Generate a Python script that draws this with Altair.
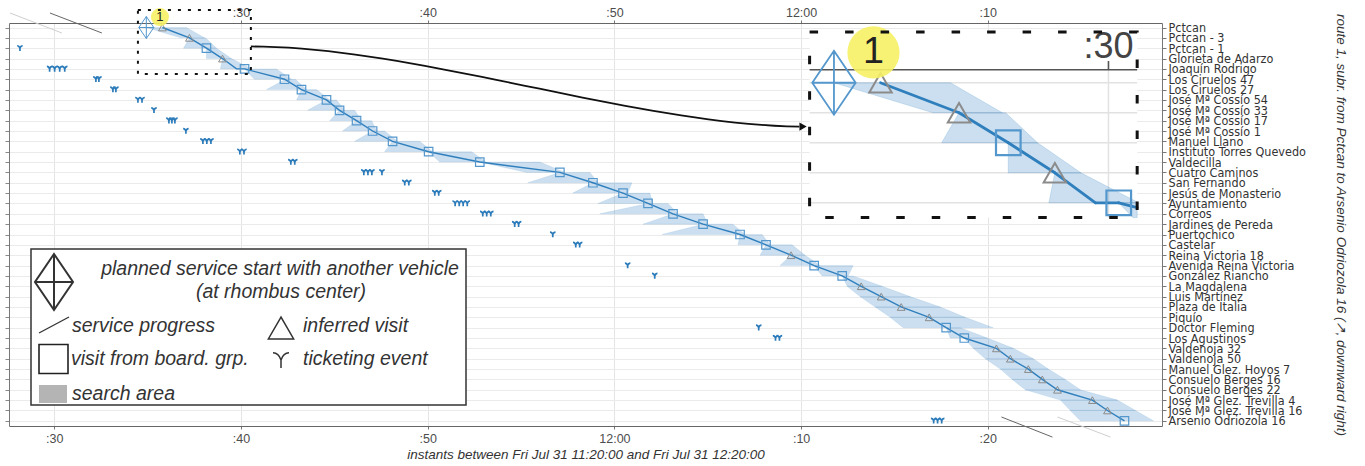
import json
import altair as alt
import pandas as pd

# ---------------------------------------------------------------- data
STATIONS = [
    "Pctcan", "Pctcan - 3", "Pctcan - 1", "Glorieta de Adarzo", "Joaquín Rodrigo",
    "Los Ciruelos 47", "Los Ciruelos 27", "José Mª Cossío 54", "José Mª Cossío 33",
    "José Mª Cossío 17", "José Mª Cossío 1", "Manuel Llano", "Instituto Torres Quevedo",
    "Valdecilla", "Cuatro Caminos", "San Fernando", "Jesús de Monasterio", "Ayuntamiento",
    "Correos", "Jardines de Pereda", "Puertochico", "Castelar", "Reina Victoria 18",
    "Avenida Reina Victoria", "González Riancho", "La Magdalena", "Luis Martínez",
    "Plaza de Italia", "Piquío", "Doctor Fleming", "Los Agustinos", "Valdenoja 32",
    "Valdenoja 50", "Manuel Glez. Hoyos 7", "Consuelo Berges 16", "Consuelo Berges 22",
    "José Mª Glez. Trevilla 4", "José Mª Glez. Trevilla 16", "Arsenio Odriozola 16",
]

# times are minutes after 11:00
PLANNED_START_MIN = 34.93          # planned start with another vehicle, at stop 0

# one visit per stop, in stop order
VISIT_MIN = [35.79, 37.24, 38.15, 39.01, 40.19, 42.33, 43.24, 44.58, 45.28, 46.19,
             47.05, 48.12, 50.05, 52.79, 57.08, 58.85, 60.46, 61.80, 63.14, 64.75,
             66.73, 68.12, 69.46, 70.70, 72.20, 73.22, 74.29, 75.36, 76.86, 77.77,
             78.74, 80.46, 81.21, 82.17, 82.92, 83.73, 85.60, 86.41, 87.32]
# I = inferred visit, B = visit from boarding group
VISIT_KIND = list("IIBI" "BBBBBBBBBBBBBBBBBB" "I" "BB" "IIII" "BB" "IIIIIII" "B")
ARRIVAL_MIN = {4: 39.76}           # arrival before the dwell at Joaquín Rodrigo

# search area between stop k-1 (top edge) and stop k (bottom edge), k = 1..38
SEARCH_TOP_LO = [34.93, 37.24, 38.15, 39.01, 40.19, 42.39, 43.24, 44.58, 45.28, 46.19,
                 47.05, 48.12, 50.05, 52.79, 57.08, 58.85, 60.46, 61.80, 63.14, 64.75,
                 66.73, 68.12, 69.46, 70.70, 72.20, 72.47, 73.16, 73.97, 74.77, 77.77,
                 78.74, 79.22, 79.87, 80.67, 81.31, 82.01, 83.89, 84.42]
SEARCH_TOP_HI = [37.08, 38.10, 38.69, 39.49, 41.90, 42.92, 44.05, 45.12, 46.09, 47.00,
                 47.69, 49.57, 52.36, 56.01, 58.69, 60.94, 61.90, 62.87, 64.75, 66.35,
                 67.91, 69.52, 70.21, 72.79, 72.79, 74.34, 75.84, 77.45, 78.79, 78.52,
                 79.97, 81.37, 82.44, 83.24, 84.15, 84.96, 86.94, 87.91]
SEARCH_BOT_LO = [36.76, 36.92, 38.15, 38.90, 40.72, 41.37, 42.98, 43.57, 44.75, 45.44,
                 46.09, 47.69, 50.64, 55.31, 55.36, 57.77, 59.12, 59.22, 61.53, 62.55,
                 66.62, 67.80, 68.87, 71.13, 72.47, 73.16, 73.97, 74.77, 75.47, 77.99,
                 79.22, 79.87, 80.67, 81.31, 82.01, 83.89, 84.42, 84.96]
SEARCH_BOT_HI = [38.04, 38.69, 39.49, 40.56, 42.71, 43.51, 44.75, 45.55, 46.46, 47.27,
                 48.39, 50.27, 53.11, 57.35, 59.12, 60.72, 62.06, 63.41, 65.01, 66.99,
                 68.34, 70.21, 71.02, 72.52, 74.34, 75.84, 77.45, 78.79, 80.29, 79.97,
                 81.37, 82.44, 83.24, 84.15, 84.96, 86.94, 87.91, 88.87]

# ticketing events (minute, stop)
TICKET_MIN = [28.16, 29.75, 30.02, 30.29, 30.56, 32.23, 32.39, 33.14, 33.30, 34.48,
              34.70, 35.34, 36.14, 36.30, 36.46, 37.05, 37.96, 38.17, 38.39, 39.94,
              40.16, 42.67, 42.88, 46.58, 46.80, 47.01, 47.55, 48.77, 48.99, 50.38,
              50.59, 51.47, 51.69, 51.90, 52.12, 52.95, 53.16, 53.38, 54.66, 54.87,
              56.70, 57.93, 58.14, 60.71, 62.16, 67.73, 68.63, 68.84, 77.10, 77.31,
              77.53]
TICKET_ROW = [2, 4, 4, 4, 4, 5, 5, 6, 6, 7,
              7, 8, 9, 9, 9, 10, 11, 11, 11, 12,
              12, 13, 13, 14, 14, 14, 14, 15, 15, 16,
              16, 17, 17, 17, 17, 18, 18, 18, 19, 19,
              20, 21, 21, 23, 24, 29, 30, 30, 38, 38,
              38]

# progress of neighbouring services
OTHER_T0 = [27.63, 29.77, 80.73, 83.73]
OTHER_R0 = [-1.40, -1.40, 37.63, 37.63]
OTHER_T1 = [30.41, 32.55, 83.46, 86.57]
OTHER_R1 = [0.53, 0.53, 39.57, 39.57]
OTHER_STATUS = ["ended", "running", "running", "ended"]

SERVICE_LABEL = "1"
SERVICE_LABEL_AT = (35.66, -1.01)

X_DOMAIN = [27.575, 89.33]
Y_DOMAIN = [-0.435, 38.5]
BOTTOM_TICKS = [30, 40, 50, 60, 70, 80]
TOP_TICKS = [40, 50, 60, 70, 80]
TOP_SHIFT = 10
TOP_TICK_ROWS = 0.29
TOP_LABEL_ROW = -1.2

# magnified detail: source window (t0, t1, r0, r1), destination corner, factor
INSET_SRC = (34.48, 40.53, -1.69, 4.49)
INSET_DST = (70.455, 0.435)
ZOOM = 2.9

TITLE_X = "instants between Fri Jul 31 11:20:00 and Fri Jul 31 12:20:00"
TITLE_Y = "route 1, subr. from Pctcan to Arsenio Odriozola 16 (\u2197, downward right)"

# ---------------------------------------------------------------- styles
BLUE = "#2f7fbd"
SQUARE_BLUE = "#5497cd"
TRI_GREY = "#8b8b8b"
AREA_BLUE = "#5d9bd0"
TICKET_BLUE = "#2b7bba"
TEXT = "#333333"
FONT = "Liberation Sans"
STOP_FONT = "DejaVu Sans Condensed, Liberation Sans, sans-serif"

RHOMBUS = "M0,-1L0.68,0L0,1L-0.68,0Z M0,-1L0,1 M-0.68,0L0.68,0"
TICKET = "M-1,-0.9Q-0.3,-0.9,0,0Q0.3,-0.9,1,-0.9M0,0L0,1"

XS = alt.Scale(domain=X_DOMAIN, nice=False, zero=False)
YS = alt.Scale(domain=Y_DOMAIN, reverse=True, nice=False, zero=False)


def xq(field):
    return alt.X(f"{field}:Q", scale=XS, axis=None)


def yq(field):
    return alt.Y(f"{field}:Q", scale=YS, axis=None)


def clock(v):
    return f"{11 + v // 60}:00" if v % 60 == 0 else f":{v % 60:02d}"


# ---------------------------------------------------------------- geometry helpers
def to_inset(t, r):
    return (INSET_DST[0] + (t - INSET_SRC[0]) * ZOOM,
            INSET_DST[1] + (r - INSET_SRC[2]) * ZOOM)


def inside(t, r):
    return INSET_SRC[0] <= t <= INSET_SRC[1] and INSET_SRC[2] <= r <= INSET_SRC[3]


def clip_levels(levels, box):
    """Clip a band given by (row, lo, hi) levels to a window."""
    t0, t1, r0, r1 = box
    cands = {lv[0] for lv in levels} | {r0, r1}
    pairs = list(zip(levels, levels[1:]))
    for (ra, la, ha), (rb, lb, hb) in pairs:
        for ea, eb in ((la, lb), (ha, hb)):
            for b in (t0, t1):
                if (ea - b) * (eb - b) < 0:
                    cands.add(ra + (b - ea) / (eb - ea) * (rb - ra))
    lo_r, hi_r = max(levels[0][0], r0), min(levels[-1][0], r1)
    out = []
    for r in sorted(c for c in cands if lo_r <= c <= hi_r):
        for (ra, la, ha), (rb, lb, hb) in pairs:
            if ra <= r <= rb:
                f = 0.0 if rb == ra else (r - ra) / (rb - ra)
                lo, hi = la + f * (lb - la), ha + f * (hb - ha)
                break
        lo, hi = max(lo, t0), min(hi, t1)
        if lo <= hi:
            out.append((r, lo, hi))
    return out


def clip_segment(p, q, box):
    t0, t1, r0, r1 = box
    (x0, y0), (x1, y1) = p, q
    dx, dy = x1 - x0, y1 - y0
    u0, u1 = 0.0, 1.0
    for pp, qq in ((-dx, x0 - t0), (dx, t1 - x0), (-dy, y0 - r0), (dy, r1 - y0)):
        if pp == 0:
            if qq < 0:
                return None
        else:
            u = qq / pp
            if pp < 0:
                u0 = max(u0, u)
            else:
                u1 = min(u1, u)
    if u0 > u1:
        return None
    return (x0 + u0 * dx, y0 + u0 * dy), (x0 + u1 * dx, y0 + u1 * dy)


# ---------------------------------------------------------------- tables
visits = pd.DataFrame({"t": VISIT_MIN, "row": range(len(VISIT_MIN)), "kind": VISIT_KIND})

route_pts = []
for i, t in enumerate(VISIT_MIN):
    if i in ARRIVAL_MIN:
        route_pts.append((ARRIVAL_MIN[i], i))
    route_pts.append((t, i))
route = pd.DataFrame([{"seq": k, "t": t, "row": r} for k, (t, r) in enumerate(route_pts)])

area_rows, inset_area_rows = [], []
for k in range(1, len(VISIT_MIN)):
    levels = [(k - 1, SEARCH_TOP_LO[k - 1], SEARCH_TOP_HI[k - 1]),
              (k, SEARCH_BOT_LO[k - 1], SEARCH_BOT_HI[k - 1])]
    for r, lo, hi in levels:
        area_rows.append({"poly": k, "row": r, "lo": lo, "hi": hi})
    for r, lo, hi in clip_levels(levels, INSET_SRC):
        lo2, r2 = to_inset(lo, r)
        hi2, _ = to_inset(hi, r)
        inset_area_rows.append({"poly": k, "row": r2, "lo": lo2, "hi": hi2})
areas = pd.DataFrame(area_rows)
inset_areas = pd.DataFrame(inset_area_rows)

inset_route_rows = []
for k, (p, q) in enumerate(zip(route_pts, route_pts[1:])):
    seg = clip_segment(p, q, INSET_SRC)
    if seg:
        for j, pt in enumerate(seg):
            t2, r2 = to_inset(*pt)
            inset_route_rows.append({"seg": k, "j": j, "t": t2, "row": r2})
inset_route = pd.DataFrame(inset_route_rows)

inset_visits = pd.DataFrame(
    [dict(zip(("t", "row"), to_inset(t, r)), kind=kd)
     for t, r, kd in zip(VISIT_MIN, range(len(VISIT_MIN)), VISIT_KIND) if inside(t, r)])

tickets = pd.DataFrame({"t": TICKET_MIN, "row": TICKET_ROW})
others = pd.DataFrame({"t0": OTHER_T0, "r0": OTHER_R0, "t1": OTHER_T1, "r1": OTHER_R1,
                       "status": OTHER_STATUS})

start = pd.DataFrame({"t": [PLANNED_START_MIN], "row": [0]})
ist, isr = to_inset(PLANNED_START_MIN, 0)
inset_start = pd.DataFrame({"t": [ist], "row": [isr]})

badge = pd.DataFrame({"t": [SERVICE_LABEL_AT[0]], "row": [SERVICE_LABEL_AT[1]],
                      "txt": [SERVICE_LABEL]})
bt, br = to_inset(*SERVICE_LABEL_AT)
inset_badge = pd.DataFrame({"t": [bt], "row": [br], "txt": [SERVICE_LABEL]})

# windows
src_box = pd.DataFrame({"t0": [INSET_SRC[0]], "t1": [INSET_SRC[1]],
                        "r0": [INSET_SRC[2]], "r1": [INSET_SRC[3]]})
d0 = to_inset(INSET_SRC[0], INSET_SRC[2])
d1 = to_inset(INSET_SRC[1], INSET_SRC[3])
dst_box = pd.DataFrame({"t0": [d0[0]], "t1": [d1[0]], "r0": [d0[1]], "r1": [d1[1]]})

# magnified axis furniture
grid_rows = []
for r in range(len(STATIONS)):
    if INSET_SRC[2] <= r <= INSET_SRC[3]:
        a, b = to_inset(INSET_SRC[0], r), to_inset(INSET_SRC[1], r)
        grid_rows.append({"t0": a[0], "r0": a[1], "t1": b[0], "r1": b[1]})
for v in BOTTOM_TICKS:
    if INSET_SRC[0] <= v <= INSET_SRC[1]:
        a, b = to_inset(v, Y_DOMAIN[0]), to_inset(v, INSET_SRC[3])
        grid_rows.append({"t0": a[0], "r0": a[1], "t1": b[0], "r1": b[1]})
inset_grid = pd.DataFrame(grid_rows)

axis_rows, label_rows = [], []
a, b = to_inset(INSET_SRC[0], Y_DOMAIN[0]), to_inset(INSET_SRC[1], Y_DOMAIN[0])
axis_rows.append({"t0": a[0], "r0": a[1], "t1": b[0], "r1": b[1]})
for v in TOP_TICKS:
    if INSET_SRC[0] <= v <= INSET_SRC[1]:
        a, b = to_inset(v, Y_DOMAIN[0]), to_inset(v, Y_DOMAIN[0] - TOP_TICK_ROWS)
        axis_rows.append({"t0": a[0], "r0": a[1], "t1": b[0], "r1": b[1]})
        lt, lr = to_inset(v, TOP_LABEL_ROW)
        label_rows.append({"t": lt, "row": lr, "txt": clock(v - TOP_SHIFT)})
inset_axis = pd.DataFrame(axis_rows)
inset_labels = pd.DataFrame(label_rows)

# connector from the source window to the magnified view
sx, sy = INSET_SRC[1], INSET_SRC[2] + 0.57 * (INSET_SRC[3] - INSET_SRC[2])
ex, ey = d0[0] - 0.55, d0[1] + 0.51 * (d1[1] - d0[1])
span = ex - sx
ctrl = [(sx, sy), (sx + 0.3 * span, sy), (sx + 0.7 * span, ey - 0.2), (ex, ey)]
curve = []
for i in range(41):
    u = i / 40
    w = [(1 - u) ** 3, 3 * u * (1 - u) ** 2, 3 * u ** 2 * (1 - u), u ** 3]
    curve.append({"i": i, "t": sum(c[0] * k for c, k in zip(ctrl, w)),
                  "row": sum(c[1] * k for c, k in zip(ctrl, w))})
arrow = pd.DataFrame(curve)
arrow_tip = pd.DataFrame({"t": [ex + 0.2], "row": [ey]})

one = pd.DataFrame({"a": [0]})

# ---------------------------------------------------------------- axes
bottom_expr = ("datum.value % 60 == 0 ? (11 + datum.value / 60) + ':00'"
               " : ':' + (datum.value % 60)")
top_expr = (f"(datum.value - {TOP_SHIFT}) % 60 == 0 ? (11 + (datum.value - {TOP_SHIFT}) / 60) + ':00'"
            f" : ':' + ((datum.value - {TOP_SHIFT}) % 60)")
station_expr = json.dumps(STATIONS, ensure_ascii=False) + "[datum.value]"

axis_common = dict(domainColor="#666666", tickColor="#777777", labelColor="#4d4d4d",
                   labelFont=FONT, labelFontSize=12.5, labelFlush=False,
                   labelOverlap=False)

carrier_a = alt.Chart(visits).mark_point(opacity=0).encode(
    x=alt.X("t:Q", scale=XS, axis=alt.Axis(
        orient="bottom", values=BOTTOM_TICKS, labelExpr=bottom_expr, grid=True,
        gridColor="#e4e4e4", tickSize=3, labelPadding=3, title=TITLE_X,
        titleFont=FONT, titleFontStyle="italic", titleFontWeight="normal",
        titleFontSize=13.5, titleColor=TEXT, titlePadding=3, **axis_common)),
    y=alt.Y("row:Q", scale=YS, axis=alt.Axis(
        orient="left", values=list(range(len(STATIONS))), labels=False, tickSize=4,
        grid=False, title="", domainColor="#777777", tickColor="#888888")),
)

carrier_b = alt.Chart(visits).mark_point(opacity=0).encode(
    x=alt.X("t:Q", scale=XS, axis=alt.Axis(
        orient="top", values=TOP_TICKS, labelExpr=top_expr, grid=False, tickSize=3,
        labelPadding=1, title="", **axis_common)),
    y=alt.Y("row:Q", scale=YS, axis=alt.Axis(
        orient="right", values=list(range(len(STATIONS))), labelExpr=station_expr,
        grid=True, gridColor="#ebebeb", tickSize=4, labelPadding=2,
        labelFont=STOP_FONT, labelFontSize=12.5, labelColor=TEXT, labelOverlap=False,
        labelBaseline="middle", domainColor="#777777", tickColor="#777777",
        title=TITLE_Y, titleFont=FONT, titleFontStyle="italic",
        titleFontWeight="normal", titleFontSize=13.5, titleColor=TEXT, titleAngle=90,
        titleX=178, titleY=201.5, titleAlign="center", titleBaseline="middle")),
)

# ---------------------------------------------------------------- main marks
search = alt.Chart(areas).mark_area(
    orient="horizontal", fill=AREA_BLUE, fillOpacity=0.32, stroke=AREA_BLUE,
    strokeOpacity=0.25, strokeWidth=0.6
).encode(y=yq("row"), x=xq("lo"), x2="hi", detail="poly:N")

other_lines = alt.Chart(others).mark_rule(strokeWidth=1).encode(
    x=xq("t0"), y=yq("r0"), x2="t1", y2="r1",
    color=alt.Color("status:N", scale=alt.Scale(domain=["ended", "running"],
                                                range=["#cfcfcf", "#666666"]),
                    legend=None))

route_line = alt.Chart(route).mark_line(color=BLUE, strokeWidth=1.4).encode(
    x=xq("t"), y=yq("row"), order="seq:Q")

ticket_marks = alt.Chart(tickets).mark_point(
    shape=TICKET, filled=False, size=30, stroke=TICKET_BLUE, strokeWidth=1.7, opacity=1
).encode(x=xq("t"), y=yq("row"))

squares = alt.Chart(visits).transform_filter("datum.kind == 'B'").mark_point(
    shape="square", filled=False, size=72, stroke=SQUARE_BLUE, strokeWidth=1.2, opacity=1
).encode(x=xq("t"), y=yq("row"))

triangles = alt.Chart(visits).transform_filter("datum.kind == 'I'").mark_point(
    shape="triangle-up", filled=False, size=60, stroke=TRI_GREY, strokeWidth=1, opacity=1
).encode(x=xq("t"), y=yq("row"))

rhombus = alt.Chart(start).mark_point(
    shape=RHOMBUS, filled=False, size=484, stroke=SQUARE_BLUE, strokeWidth=1, opacity=1
).encode(x=xq("t"), y=yq("row"))

badge_dot = alt.Chart(badge).mark_point(
    shape="circle", filled=True, size=324, color="#f6f165", opacity=0.9
).encode(x=xq("t"), y=yq("row"))
badge_txt = alt.Chart(badge).mark_text(
    fontSize=13, color="#222222", font=FONT, baseline="middle"
).encode(x=xq("t"), y=yq("row"), text="txt:N")

src_frame = alt.Chart(src_box).mark_rect(
    fillOpacity=0, stroke="#111111", strokeWidth=2, strokeDash=[3, 7]
).encode(x=xq("t0"), x2="t1", y=yq("r0"), y2="r1")

arrow_line = alt.Chart(arrow).mark_line(color="#111111", strokeWidth=1.8).encode(
    x=xq("t"), y=yq("row"), order="i:Q")
arrow_head = alt.Chart(arrow_tip).mark_point(
    shape="triangle-right", filled=True, size=70, color="#111111", opacity=1
).encode(x=xq("t"), y=yq("row"))

# ---------------------------------------------------------------- magnified view
dst_fill = alt.Chart(dst_box).mark_rect(fill="white").encode(
    x=xq("t0"), x2="t1", y=yq("r0"), y2="r1")

inset_gridlines = alt.Chart(inset_grid).mark_rule(color="#e2e2e2", strokeWidth=1.5).encode(
    x=xq("t0"), y=yq("r0"), x2="t1", y2="r1")
inset_axisline = alt.Chart(inset_axis).mark_rule(color="#555555", strokeWidth=1.6).encode(
    x=xq("t0"), y=yq("r0"), x2="t1", y2="r1")
inset_ticklabel = alt.Chart(inset_labels).mark_text(
    fontSize=36, color="#444444", font=FONT, baseline="middle"
).encode(x=xq("t"), y=yq("row"), text="txt:N")

inset_search = alt.Chart(inset_areas).mark_area(
    orient="horizontal", fill=AREA_BLUE, fillOpacity=0.32, stroke=AREA_BLUE,
    strokeOpacity=0.25, strokeWidth=1
).encode(y=yq("row"), x=xq("lo"), x2="hi", detail="poly:N")

inset_line = alt.Chart(inset_route).mark_line(
    color=BLUE, strokeWidth=2.8, strokeCap="round"
).encode(x=xq("t"), y=yq("row"), detail="seg:N", order="j:Q")

inset_squares = alt.Chart(inset_visits).transform_filter("datum.kind == 'B'").mark_point(
    shape="square", filled=False, size=72 * ZOOM ** 2, stroke=SQUARE_BLUE,
    strokeWidth=2.2, opacity=1
).encode(x=xq("t"), y=yq("row"))
inset_triangles = alt.Chart(inset_visits).transform_filter("datum.kind == 'I'").mark_point(
    shape="triangle-up", filled=False, size=60 * ZOOM ** 2, stroke=TRI_GREY,
    strokeWidth=2, opacity=1
).encode(x=xq("t"), y=yq("row"))
inset_rhombus = alt.Chart(inset_start).mark_point(
    shape=RHOMBUS, filled=False, size=484 * ZOOM ** 2, stroke=SQUARE_BLUE,
    strokeWidth=1.8, opacity=1
).encode(x=xq("t"), y=yq("row"))
inset_badge_dot = alt.Chart(inset_badge).mark_point(
    shape="circle", filled=True, size=324 * ZOOM ** 2, color="#f6f165", opacity=0.9
).encode(x=xq("t"), y=yq("row"))
inset_badge_txt = alt.Chart(inset_badge).mark_text(
    fontSize=13 * ZOOM, color="#222222", font=FONT, baseline="middle"
).encode(x=xq("t"), y=yq("row"), text="txt:N")

dst_frame = alt.Chart(dst_box).mark_rect(
    fillOpacity=0, stroke="#111111", strokeWidth=3, strokeDash=[8.5, 27]
).encode(x=xq("t0"), x2="t1", y=yq("r0"), y2="r1")

# ---------------------------------------------------------------- key (pixel layout)
LEG_TEXT = dict(font=FONT, fontSize=19.5, fontStyle="italic", color=TEXT, baseline="middle")


def leg_text(txt, px, py, align="left"):
    return alt.Chart(one).mark_text(text=txt, align=align, **LEG_TEXT).encode(
        x=alt.value(px), y=alt.value(py))


key_box = alt.Chart(one).mark_rect(fill="white", stroke="#333333", strokeWidth=1.5).encode(
    x=alt.value(22), x2=alt.value(457), y=alt.value(226), y2=alt.value(382))
key_rhombus = alt.Chart(one).mark_point(
    shape=RHOMBUS, filled=False, size=3136, stroke="#333333", strokeWidth=2, opacity=1
).encode(x=alt.value(45), y=alt.value(259))
key_progress = alt.Chart(one).mark_rule(color="#333333", strokeWidth=1.4).encode(
    x=alt.value(30), y=alt.value(310), x2=alt.value(60), y2=alt.value(294))
key_triangle = alt.Chart(one).mark_point(
    shape="triangle-up", filled=False, size=640, stroke="#333333", strokeWidth=1.5, opacity=1
).encode(x=alt.value(272), y=alt.value(305))
key_square = alt.Chart(one).mark_point(
    shape="square", filled=False, size=841, stroke="#222222", strokeWidth=1.6, opacity=1
).encode(x=alt.value(44.5), y=alt.value(336))
key_ticket = alt.Chart(one).mark_point(
    shape=TICKET, filled=False, size=256, stroke="#333333", strokeWidth=1.5, opacity=1
).encode(x=alt.value(272), y=alt.value(337))
key_area = alt.Chart(one).mark_rect(fill="#b4b4b4").encode(
    x=alt.value(30), x2=alt.value(58), y=alt.value(362), y2=alt.value(380))

key = [
    key_box, key_rhombus, key_progress, key_triangle, key_square, key_ticket, key_area,
    leg_text("planned service start with another vehicle", 271, 246, "center"),
    leg_text("(at rhombus center)", 272, 269, "center"),
    leg_text("service progress", 63, 303),
    leg_text("inferred visit", 294, 303),
    leg_text("visit from board. grp.", 62, 336),
    leg_text("ticketing event", 294, 336),
    leg_text("search area", 63, 371),
]

# ---------------------------------------------------------------- assemble
chart = alt.layer(
    carrier_a, carrier_b,
    search, other_lines, route_line, ticket_marks, squares, triangles, rhombus,
    badge_dot, badge_txt, src_frame, arrow_line, arrow_head,
    dst_fill, inset_gridlines, inset_axisline, inset_ticklabel, inset_search,
    inset_line, inset_squares, inset_triangles, inset_rhombus, inset_badge_dot,
    inset_badge_txt, dst_frame,
    *key,
).resolve_axis(
    x="independent", y="independent"
).properties(
    width=1153, height=403,
    padding={"left": 9, "top": 23, "right": 203, "bottom": 40},
    autosize=alt.AutoSizeParams(type="none"),
    background="white",
).configure_view(strokeWidth=0)

chart.save("out.html", embed_options={"renderer": "svg", "actions": False})
